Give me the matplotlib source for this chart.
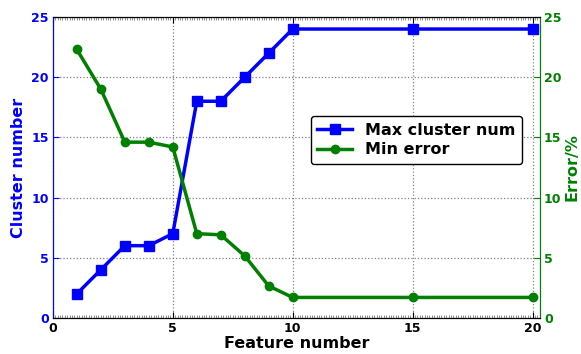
import matplotlib
matplotlib.use("Agg")
import matplotlib.pyplot as plt
from matplotlib.ticker import MultipleLocator

features = [1, 2, 3, 4, 5, 6, 7, 8, 9, 10, 15, 20]
max_cluster = [2, 4, 6, 6, 7, 18, 18, 20, 22, 24, 24, 24]
min_error = [22.3, 19.0, 14.6, 14.6, 14.2, 7.0, 6.9, 5.15, 2.65, 1.7, 1.7, 1.7]

plt.rcParams['font.family'] = ['DejaVu Sans']
plt.rcParams['font.weight'] = 'bold'

fig = plt.figure(figsize=(5.81, 3.54), dpi=100)
ax = fig.add_axes([0.091, 0.102, 0.838, 0.850])
ax2 = ax.twinx()

l1, = ax.plot(features, max_cluster, color='blue', marker='s', markersize=7,
              linewidth=2.5, label='Max cluster num')
l2, = ax2.plot(features, min_error, color='green', marker='o', markersize=6,
               linewidth=2.5, label='Min error')

ax.set_xlim(0, 20.3)
ax.set_ylim(0, 25)
ax2.set_ylim(0, 25)
ax.set_xticks([0, 5, 10, 15, 20])
ax.set_yticks([0, 5, 10, 15, 20, 25])
ax2.set_yticks([0, 5, 10, 15, 20, 25])
ax.xaxis.set_minor_locator(MultipleLocator(0.1))
ax.tick_params(axis='x', which='minor', direction='in', length=2, top=True, color='gray')
ax.tick_params(axis='x', which='major', direction='in', length=4, top=True, labelsize=9, pad=3)
ax.tick_params(axis='y', direction='in', length=4, colors='blue', labelsize=9, pad=3)
ax2.tick_params(axis='y', direction='in', length=4, colors='green', labelsize=9, pad=3)
for lab in ax.get_xticklabels() + ax.get_yticklabels() + ax2.get_yticklabels():
    lab.set_fontweight('bold')

ax.grid(True, linestyle=':', color='gray', linewidth=0.9)

ax.spines['left'].set_color('blue')
ax2.spines['left'].set_color('blue')
ax2.spines['right'].set_color('green')
ax.spines['right'].set_color('green')

ax.set_xlabel('Feature number', fontsize=11.5, fontweight='bold', labelpad=1)
ax.set_ylabel('Cluster number', fontsize=11.5, fontweight='bold', color='blue', labelpad=4)
ax2.set_ylabel('Error/%', fontsize=11.5, fontweight='bold', color='green', labelpad=2)

leg = ax.legend([l1, l2], ['Max cluster num', 'Min error'], loc='center right',
                bbox_to_anchor=(0.963, 0.591), borderaxespad=0, fontsize=11.5,
                fancybox=True, framealpha=1, edgecolor='black', handlelength=2.2,
                labelspacing=0.3)
leg.get_frame().set_linewidth(1)
for t in leg.get_texts():
    t.set_fontweight('bold')

fig.savefig('out.png', dpi=100)
